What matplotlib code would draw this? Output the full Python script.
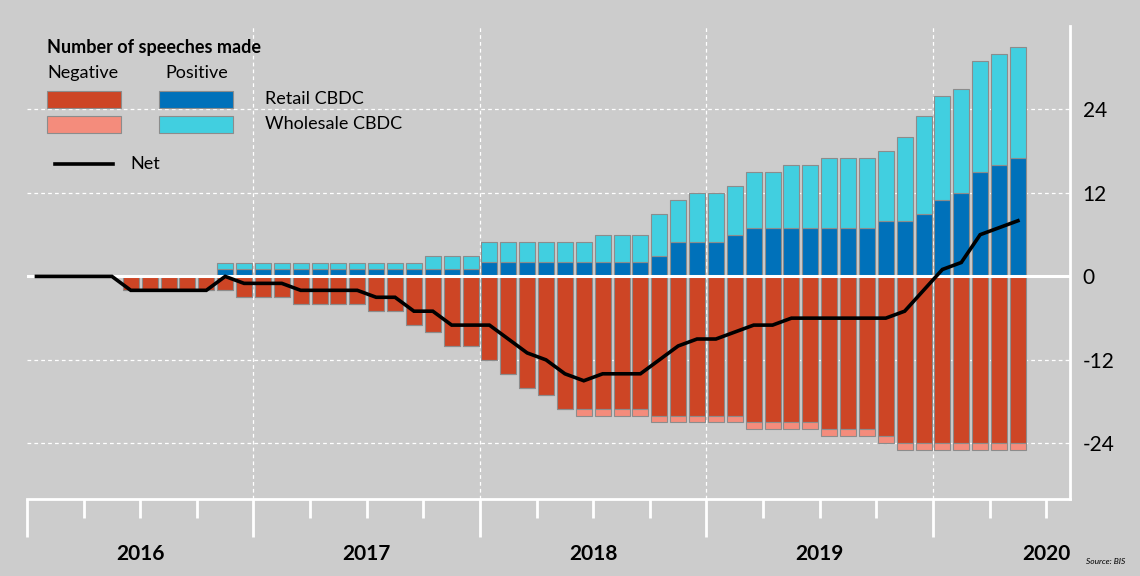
import matplotlib
matplotlib.use('Agg')
import matplotlib.pyplot as plt
from matplotlib.patches import Rectangle
from matplotlib.lines import Line2D
import numpy as np

plt.rcParams['font.family'] = ['Lato', 'DejaVu Sans']

# Monthly cumulative counts, Jan 2016 .. May 2020 (53 months)
neg_retail = [0, 0, 0, 0, 0, 2, 2, 2, 2, 2, 2, 3,        # 2016
              3, 3, 4, 4, 4, 4, 5, 5, 7, 8, 10, 10,      # 2017
              12, 14, 16, 17, 19, 19, 19, 19, 19, 20, 20, 20,  # 2018
              20, 20, 21, 21, 21, 21, 22, 22, 22, 23, 24, 24,  # 2019
              24, 24, 24, 24, 24]                        # 2020
neg_wholesale = [0, 0, 0, 0, 0, 0, 0, 0, 0, 0, 0, 0,
                 0, 0, 0, 0, 0, 0, 0, 0, 0, 0, 0, 0,
                 0, 0, 0, 0, 0, 1, 1, 1, 1, 1, 1, 1,
                 1, 1, 1, 1, 1, 1, 1, 1, 1, 1, 1, 1,
                 1, 1, 1, 1, 1]
pos_retail = [0, 0, 0, 0, 0, 0, 0, 0, 0, 0, 1, 1,
              1, 1, 1, 1, 1, 1, 1, 1, 1, 1, 1, 1,
              2, 2, 2, 2, 2, 2, 2, 2, 2, 3, 5, 5,
              5, 6, 7, 7, 7, 7, 7, 7, 7, 8, 8, 9,
              11, 12, 15, 16, 17]
pos_wholesale = [0, 0, 0, 0, 0, 0, 0, 0, 0, 0, 1, 1,
                 1, 1, 1, 1, 1, 1, 1, 1, 1, 2, 2, 2,
                 3, 3, 3, 3, 3, 3, 4, 4, 4, 6, 6, 7,
                 7, 7, 8, 8, 9, 9, 10, 10, 10, 10, 12, 14,
                 15, 15, 16, 16, 16]
years = ['2016', '2017', '2018', '2019', '2020']
yticks = [-24, -12, 0, 12, 24]

neg_retail = np.array(neg_retail)
neg_wholesale = np.array(neg_wholesale)
pos_retail = np.array(pos_retail)
pos_wholesale = np.array(pos_wholesale)
net = pos_retail + pos_wholesale - neg_retail - neg_wholesale
x = np.arange(len(net)) + 0.5

bg = '#cccccc'
c_neg_r = '#cd4525'
c_neg_w = '#f48c7c'
c_pos_r = '#0071ba'
c_pos_w = '#41cfe0'
edge = '#8c8c8c'

fig = plt.figure(figsize=(11.4, 5.76), dpi=100, facecolor=bg)
ax = fig.add_axes([27/1140, 77/576, 1043/1140, 473/576], facecolor=bg)

w = 0.85
kw = dict(width=w, edgecolor=edge, linewidth=0.8, zorder=3)
ax.bar(x, -neg_retail, color=c_neg_r, **kw)
ax.bar(x, -neg_wholesale, bottom=-neg_retail, color=c_neg_w, **kw)
ax.bar(x, pos_retail, color=c_pos_r, **kw)
ax.bar(x, pos_wholesale, bottom=pos_retail, color=c_pos_w, **kw)
ax.plot(x, net, color='black', lw=2.6, zorder=5, solid_joinstyle='miter')

ax.axhline(0, color='white', lw=2.2, zorder=4)

ax.set_xlim(0, 55.26)
ax.set_ylim(-32, 36)

# grid
for yv in [-24, -12, 12, 24]:
    ax.axhline(yv, color='white', lw=0.9, ls=(0, (3, 2.5)), zorder=1)
for xv in [12, 24, 36, 48]:
    ax.axvline(xv, color='white', lw=0.9, ls=(0, (3, 2.5)), zorder=1)

for s in ['left', 'top']:
    ax.spines[s].set_visible(False)
for s in ['bottom', 'right']:
    ax.spines[s].set_color('white')
    ax.spines[s].set_linewidth(2)

ax.set_xticks([0, 12, 24, 36, 48])
ax.set_xticks(np.arange(3, 55, 3), minor=True)
ax.tick_params(axis='x', which='major', length=27, width=2, color='white', labelbottom=False)
ax.tick_params(axis='x', which='minor', length=14, width=2, color='white')
for i, yr in enumerate(years):
    ax.text(6 + 12 * i, -0.116, yr, transform=ax.get_xaxis_transform(),
            ha='center', va='center', fontsize=15, fontweight='bold')

ax.yaxis.tick_right()
ax.set_yticks(yticks)
ax.set_yticklabels([str(v) for v in yticks])
ax.tick_params(axis='y', length=0, pad=9, labelsize=15)

# legend
fig.text(47/1140, 1 - 48/576, 'Number of speeches made', fontsize=13, fontweight='bold',
         va='center', ha='left')
fig.text(47/1140, 1 - 73/576, 'Negative', fontsize=13, va='center', ha='left')
fig.text(165/1140, 1 - 73/576, 'Positive', fontsize=13, va='center', ha='left')
for (px, py, col) in [(47, 108, c_neg_r), (159, 108, c_pos_r),
                      (47, 133, c_neg_w), (159, 133, c_pos_w)]:
    fig.patches.append(Rectangle((px/1140, 1 - py/576), 74/1140, 17/576,
                                 transform=fig.transFigure, facecolor=col,
                                 edgecolor=edge, linewidth=0.8))
fig.text(265/1140, 1 - 99/576, 'Retail CBDC', fontsize=13, va='center', ha='left')
fig.text(265/1140, 1 - 124/576, 'Wholesale CBDC', fontsize=13, va='center', ha='left')
fig.lines.append(Line2D([55/1140, 113/1140], [1 - 164/576, 1 - 164/576],
                        transform=fig.transFigure, color='black', lw=2.6))
fig.text(130/1140, 1 - 164/576, 'Net', fontsize=13, va='center', ha='left')

fig.text(1125/1140, 1 - 562/576, 'Source: BIS', fontsize=6, style='italic',
         va='center', ha='right')

fig.savefig('out.png', dpi=100, facecolor=bg)
